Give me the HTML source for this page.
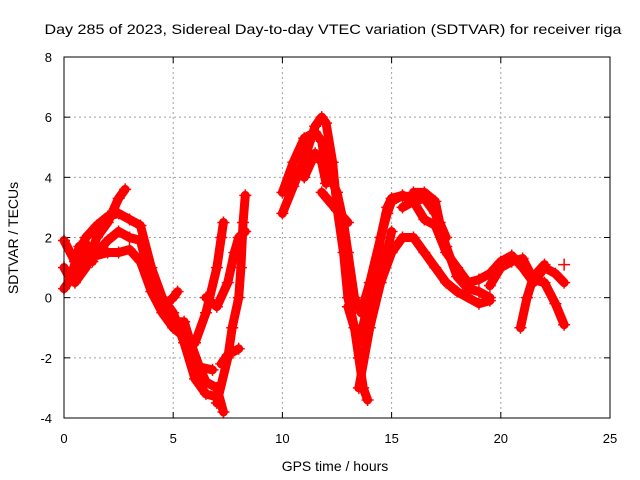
<!DOCTYPE html>
<html><head><meta charset="utf-8"><style>
body{margin:0;background:#fff}
svg{display:block;font-family:"Liberation Sans",sans-serif}
</style></head><body>
<svg id="chart" width="640" height="480" viewBox="0 0 640 480">
<text x="333" y="34" font-size="14" text-anchor="middle" textLength="577" lengthAdjust="spacingAndGlyphs">Day 285 of 2023, Sidereal Day-to-day VTEC variation (SDTVAR) for receiver riga</text>
<text x="335" y="471" font-size="14" text-anchor="middle">GPS time / hours</text>
<text x="18" y="238" font-size="14" text-anchor="middle" transform="rotate(-90 18 238)">SDTVAR / TECUs</text>
<g id="grid"></g>
<g id="ticks"></g>
<g id="series"></g>
<rect x="64" y="57" width="546" height="361" fill="none" stroke="#000" stroke-width="1"/>
</svg>
<script>
const xTicks=[0,5,10,15,20,25];
const yTicks=[-4,-2,0,2,4,6,8];
const trackA=[[0,0.3],[0.5,0.8],[1,1.5],[1.5,1.4],[2,1.5],[2.5,1.5],[3,1.6],[3.5,1.2],[4,0.2],[4.5,-0.5],[5,-1],[5.5,-1.3],[6,-2],[6.5,-2.8],[7,-3],[7.3,-3.8]];
const trackB=[[0,1.9],[0.5,1.2],[1,2],[1.5,2.4],[2,2.7],[2.5,2.8],[3,2.6],[3.5,2.4],[4,1],[4.5,0],[5,-0.5],[5.5,-1.5],[6,-2.7],[6.5,-3.2],[7,-3.3]];
const trackC=[[0.5,0.5],[1,1.0],[1.5,2.0],[2,2.5],[2.5,3.3],[2.8,3.6]];
const trackD=[[1.5,1.5],[2,1.9],[2.5,2.2],[3,2.0],[3.5,1.9],[4,0.5],[4.5,-0.3],[5,0],[5.2,0.2]];
const trackE=[[6,-1.5],[6.5,-0.5],[7,1],[7.2,2],[7.3,2.5]];
const trackF=[[7,-3.5],[7.5,-2],[7.7,-1],[8,0],[8.1,1],[8.2,2.5],[8.3,3.4]];
const trackG=[[7.2,-2.2],[7.5,-1.9],[8,-1.7]];
const trackH=[[6.5,0],[7,-0.3],[7.5,0.5],[7.8,1.5],[8,2],[8.3,2.2]];
const trackI=[[10,2.8],[10.5,3.7],[11,4.6],[11.5,5.7],[11.8,6.0],[12,5.8],[12.3,4.5],[12.5,3],[12.8,1.5],[13,0],[13.3,-1],[13.5,-2],[13.7,-3],[13.9,-3.4]];
const trackJ=[[10,3.5],[10.5,4.5],[11,5.3],[11.5,5.5],[11.8,5.2],[12,4.3],[12.5,3.5],[12.8,2.5],[13,1.5],[13.3,0],[13.6,-0.5],[14,0.5],[14.5,2],[14.8,3.0],[15,3.3],[15.5,3.4],[16,3.3]];
const trackK=[[11,4],[11.5,4.8],[11.8,4.5],[12,3.8]];
const trackK2=[[11.8,3.5],[12.5,2.9],[13,2.5]];
const trackL=[[13,-0.3],[13.5,-1.5],[14,0],[14.3,1],[14.5,2],[14.8,2.8],[15,3.2],[15.5,3.4],[16,3.2],[16.5,3.3],[17,2.8],[17.5,1.7],[18,0.7],[18.5,0.3],[19,0.2],[19.5,0.0]];
const trackM=[[13.5,-3],[14,-1],[14.5,0.5],[15,1.5],[15.5,2.0],[16,2.0],[16.5,1.5],[17,1.0],[17.5,0.5],[18,0.2],[19,-0.2],[19.5,-0.1]];
const trackN=[[15.5,3.0],[16,3.2],[16.5,2.6],[17,2.4],[17.5,1.5],[18,1.0],[18.5,0.5],[19,0.6],[19.5,0.8],[20,1.2],[20.5,1.4],[21,1.0],[21.5,0.5],[22,1.0],[22.5,0.8],[22.9,0.5]];
const trackO=[[19.5,0.4],[20,1.0],[20.5,1.2],[21,1.3],[21.5,0.6],[22,0.5],[22.5,-0.2],[22.9,-0.9]];
const trackP=[[20.9,-1],[21.2,0],[21.5,0.7],[22,1.1]];
const trackQ=[[16,3.5],[16.5,3.5],[17,3.2],[17.2,2.5],[17.5,2]];
const trackR=[[22.9,1.1]];
const trackS=[[0,1.0],[0.3,0.6],[0.7,1.7],[1,1.8],[1.3,1.2]];
const trackT=[[4,0.8],[4.5,-0.1],[5,-0.8],[5.5,-0.8],[5.8,-1.5],[6.2,-2.3],[6.8,-2.4]];
const trackU=[[14,-0.5],[14.3,0.3],[14.7,1.2],[15,2.2]];
const tracks=[trackA,trackB,trackC,trackD,trackE,trackF,trackG,trackH,trackI,trackJ,trackK,trackK2,trackL,trackM,trackN,trackO,trackP,trackQ,trackR,trackS,trackT,trackU];

const X0=64,X1=610,Y0=418,Y1=57;
const xs=v=>X0+(v-0)/(25-0)*(X1-X0);
const ys=v=>Y0-(v+4)/(12)*(Y0-Y1);
const NS='http://www.w3.org/2000/svg';
const grid=document.getElementById('grid'),ticks=document.getElementById('ticks'),ser=document.getElementById('series');
function mk(tag,attrs,parent){const e=document.createElementNS(NS,tag);for(const k in attrs)e.setAttribute(k,attrs[k]);parent.appendChild(e);return e;}
xTicks.forEach(t=>{
 const x=xs(t);
 if(t>0&&t<25){const g=mk('line',{x1:x,x2:x,y1:Y1,y2:Y0,stroke:'#a0a0a0','stroke-dasharray':'2,3'},grid);
 
 }
 mk('line',{x1:x,x2:x,y1:Y0,y2:Y0-6,stroke:'#000'},ticks);
 mk('line',{x1:x,x2:x,y1:Y1,y2:Y1+6,stroke:'#000'},ticks);
 const l=mk('text',{x:x,y:443,'font-size':13,'text-anchor':'middle'},ticks);l.textContent=t;
 
 
});
yTicks.forEach(t=>{
 const y=ys(t);
 if(t>-4&&t<8){const g=mk('line',{x1:X0,x2:X1,y1:y,y2:y,stroke:'#a0a0a0','stroke-dasharray':'2,3'},grid);
 
 }
 mk('line',{x1:X0,x2:X0+6,y1:y,y2:y,stroke:'#000'},ticks);
 mk('line',{x1:X1,x2:X1-6,y1:y,y2:y,stroke:'#000'},ticks);
 const l=mk('text',{x:52,y:y+5,'font-size':13,'text-anchor':'end'},ticks);l.textContent=t;
 
 
});
tracks.forEach(tr=>{
 const pts=tr.map(p=>xs(p[0])+','+ys(p[1])).join(' ');
 const pl=mk('polyline',{points:pts,fill:'none',stroke:'#ff0000','stroke-width':9,'stroke-linejoin':'round','stroke-linecap':'round'},ser);
 
 
 tr.forEach(p=>{
  const x=xs(p[0]),y=ys(p[1]);
  const m=mk('path',{d:`M${x-6},${y}h12M${x},${y-6}v12`,stroke:'#ff0000','stroke-width':1.5},ser);
  
  
 });
});
</script>
</body></html>
